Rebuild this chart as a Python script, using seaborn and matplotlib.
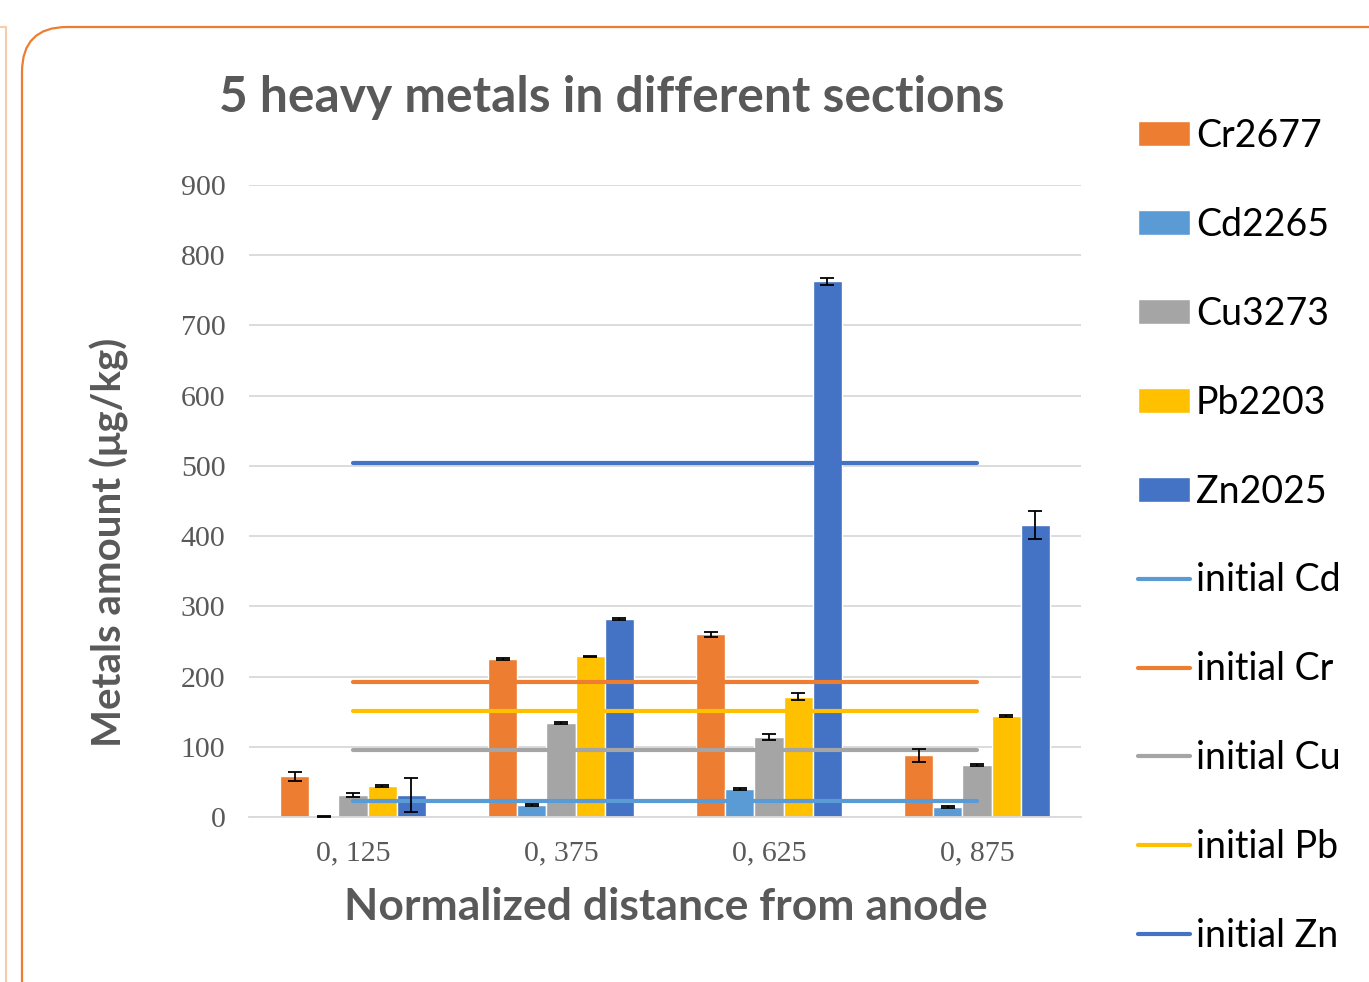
import numpy as np
import pandas as pd
import matplotlib
matplotlib.use('Agg')
import matplotlib.pyplot as plt
from matplotlib.patches import FancyBboxPatch, Patch
from matplotlib.lines import Line2D
import seaborn as sns

# data
sections = ['0, 125', '0, 375', '0, 625', '0, 875']
metals = ['Cr2677', 'Cd2265', 'Cu3273', 'Pb2203', 'Zn2025']
cr = [58, 225, 260, 88]
cd = [1, 17, 40, 14]
cu = [31, 134, 114, 74]
pb = [44, 229, 171, 144]
zn = [31, 282, 763, 416]
cr_err = [6, 2, 3, 9]
cd_err = [0.5, 1, 1, 1]
cu_err = [3, 2, 4, 1]
pb_err = [1, 1, 5, 1]
zn_err = [24, 2, 5, 20]
initial_names = ['initial Cd', 'initial Cr', 'initial Cu', 'initial Pb', 'initial Zn']
initial_vals = [23, 192, 95, 151, 504]

colors = {'Cr2677': '#ED7D31', 'Cd2265': '#5B9BD5', 'Cu3273': '#A5A5A5',
          'Pb2203': '#FFC000', 'Zn2025': '#4472C4'}
line_colors = ['#5B9BD5', '#ED7D31', '#A5A5A5', '#FFC000', '#4472C4']

vals = [cr, cd, cu, pb, zn]
errs = [cr_err, cd_err, cu_err, pb_err, zn_err]
df = pd.DataFrame({'section': np.tile(sections, len(metals)),
                   'metal': np.repeat(metals, len(sections)),
                   'amount': np.concatenate(vals)})

sns.set_style('white')
plt.rcParams['font.family'] = ['Lato', 'DejaVu Sans']

fig = plt.figure(figsize=(13.69, 9.82), dpi=100)

# outer rounded frame
bg = fig.add_axes([0, 0, 1, 1], zorder=-1)
bg.set_xlim(0, 1369)
bg.set_ylim(982, 0)
bg.axis('off')
bg.add_patch(FancyBboxPatch((22, 27), 1420, 1050,
                            boxstyle='round,pad=0,rounding_size=45',
                            fill=False, edgecolor='#ED7D31', lw=1.6))
bg.plot([6, 6], [27, 982], color='#F8CBAD', lw=1.5)
bg.plot([0, 6], [27, 27], color='#F8CBAD', lw=1.5)

ax = fig.add_axes([0.1819, 0.168, 0.6077, 0.6436])
sns.barplot(data=df, x='section', y='amount', hue='metal', order=sections,
            hue_order=metals, palette=colors, width=0.7, errorbar=None,
            saturation=1, ax=ax, legend=False, zorder=2)

for cont, err in zip(ax.containers, errs):
    xs = [b.get_x() + b.get_width() / 2 for b in cont]
    hs = [b.get_height() for b in cont]
    ax.errorbar(xs, hs, yerr=err, fmt='none', ecolor='black', elinewidth=1.3,
                capsize=5, capthick=1.3, zorder=4)

xpos = np.arange(len(sections))
for v, c in zip(initial_vals, line_colors):
    ax.plot(xpos, [v] * len(xpos), color=c, lw=3, zorder=3, solid_capstyle='round')

ax.set_ylim(0, 900)
ax.set_xlim(-0.5, 3.5)
ax.set_yticks(np.arange(0, 901, 100))
ax.yaxis.grid(True, color='#D9D9D9', lw=1.3)
ax.set_axisbelow(True)
for s in ['top', 'right', 'left']:
    ax.spines[s].set_visible(False)
ax.spines['bottom'].set_color('#D9D9D9')
ax.spines['bottom'].set_linewidth(1.3)
ax.tick_params(length=0, pad=17, labelsize=21.5, labelcolor='#595959')
for lab in ax.get_xticklabels() + ax.get_yticklabels():
    lab.set_family('Liberation Serif')
ax.tick_params(axis='x', pad=17)
ax.set_xlabel('')
ax.set_ylabel('')

fig.text(0.447, 0.901, '5 heavy metals in different sections', ha='center',
         va='center', fontsize=35.8, fontweight='bold', color='#595959')
fig.text(0.080, 0.448, 'Metals amount (μg/kg)', ha='center', va='center',
         rotation=90, fontsize=29, fontweight='bold', color='#595959')
fig.text(0.486, 0.076, 'Normalized distance from anode', ha='center',
         va='center', fontsize=32, fontweight='bold', color='#595959')

handles = [Patch(facecolor=colors[m]) for m in metals]
handles += [Line2D([0], [0], color=c, lw=3) for c in line_colors]
labels = metals + initial_names
fig.legend(handles, labels, loc='upper left', bbox_to_anchor=(0.8205, 0.895),
           frameon=False, fontsize=27, labelspacing=1.41, handlelength=1.39,
           handleheight=0.65, handletextpad=0.15, borderaxespad=0,
           labelcolor='black')

fig.savefig('out.png', dpi=100)
